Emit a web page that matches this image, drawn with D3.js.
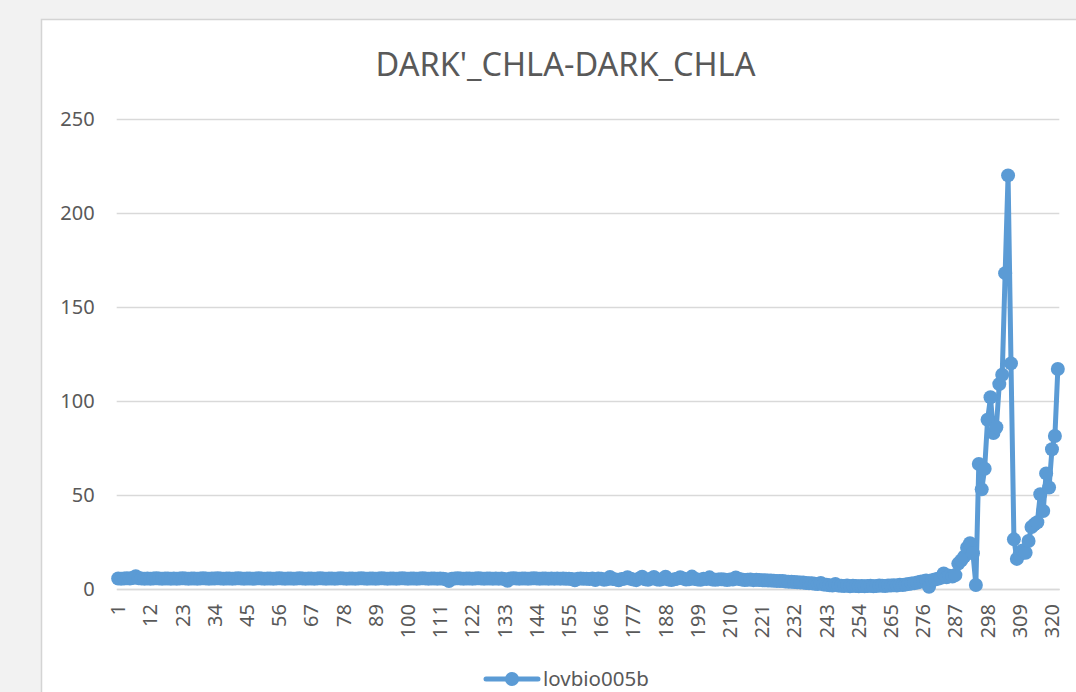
<!DOCTYPE html>
<html>
<head>
<meta charset="utf-8">
<script src="https://cdn.jsdelivr.net/npm/d3@7"></script>
<style>
  html, body { margin: 0; padding: 0; background: #f2f2f2; overflow: hidden; }
  svg { display: block; font-family: "Noto Sans", "Open Sans", sans-serif; }
</style>
</head>
<body>
<svg id="chart" width="1076" height="692"></svg>
<script>
const chartTitle = "DARK'_CHLA-DARK_CHLA";
const seriesName = "lovbio005b";
const categories = d3.range(1, 323);
const xTickLabels = [1, 12, 23, 34, 45, 56, 67, 78, 89, 100, 111, 122, 133, 144, 155, 166, 177, 188, 199, 210, 221, 232, 243, 254, 265, 276, 287, 298, 309, 320];
const yTicks = [0, 50, 100, 150, 200, 250];
const values = [
  5.6,5.5,5.6,5.7,5.6,5.8,6.8,5.7,5.6,5.5,
  5.6,5.5,5.6,5.7,5.6,5.5,5.6,5.6,5.5,5.6,
  5.5,5.6,5.7,5.6,5.5,5.6,5.6,5.5,5.6,5.7,
  5.6,5.5,5.6,5.6,5.7,5.6,5.5,5.6,5.6,5.5,
  5.6,5.7,5.6,5.5,5.6,5.6,5.5,5.6,5.7,5.6,
  5.5,5.6,5.6,5.5,5.6,5.7,5.6,5.5,5.6,5.6,
  5.5,5.6,5.7,5.6,5.5,5.6,5.6,5.5,5.6,5.7,
  5.6,5.5,5.6,5.6,5.5,5.6,5.7,5.6,5.5,5.6,
  5.6,5.5,5.6,5.7,5.6,5.5,5.6,5.6,5.5,5.6,
  5.7,5.6,5.5,5.6,5.6,5.5,5.6,5.7,5.6,5.5,
  5.6,5.6,5.5,5.6,5.7,5.6,5.5,5.6,5.6,5.5,
  5.6,5.5,5.2,4.2,5.5,5.6,5.7,5.6,5.5,5.6,
  5.6,5.5,5.6,5.7,5.6,5.5,5.6,5.6,5.5,5.6,
  5.5,5.6,5.3,4.4,5.6,5.7,5.6,5.5,5.6,5.6,
  5.5,5.6,5.7,5.6,5.5,5.6,5.6,5.5,5.6,5.5,
  5.6,5.5,5.6,5.4,5.5,5.3,4.6,5.5,5.6,5.4,
  5.5,5.3,5.6,4.8,5.6,5.5,4.9,5.2,6.4,5.3,
  5.1,4.6,5.3,5.5,6.3,5.4,5.0,4.7,5.6,6.5,
  5.2,4.9,5.4,6.4,5.1,4.9,5.3,6.5,5.0,4.8,
  5.2,5.5,6.3,5.6,5.0,5.2,6.6,5.3,5.0,4.9,
  5.4,5.3,6.2,5.0,4.9,5.1,5.2,5.0,4.8,5.1,
  5.0,6.1,5.3,5.0,4.8,4.9,5.0,4.7,4.9,4.8,
  4.7,4.6,4.5,4.5,4.4,4.3,4.2,4.2,4.0,3.9,
  3.8,3.7,3.6,3.5,3.4,3.2,3.1,3.0,2.8,2.6,
  3.2,2.4,2.2,2.0,1.8,2.6,1.9,1.7,1.6,1.8,
  1.5,1.7,1.6,1.4,1.6,1.5,1.6,1.7,1.5,1.6,
  1.8,1.7,1.6,1.9,1.8,2.0,1.9,2.2,2.1,2.4,
  2.6,2.9,3.1,3.4,3.8,4.1,4.5,1.2,4.6,5.0,
  5.4,5.9,8.3,6.2,7.0,6.6,7.4,13.5,15.2,17.2,
  22.0,24.3,19.0,2.1,66.5,53.0,64.0,90.0,102.0,83.0,
  86.0,109.0,114.0,168.0,220.0,120.0,26.4,16.0,18.5,20.5,
  19.3,25.5,33.0,34.4,35.5,50.4,41.5,61.5,54.0,74.3,
  81.4,117.0
];

const color = "#5b9bd5";
const textColor = "#595959";
const gridColor = "#d9d9d9";

const svg = d3.select("#chart");
const plot = { left: 116.7, right: 1059.3, top: 119, bottom: 589 };

// chart area
svg.append("rect")
  .attr("x", 41.5).attr("y", 19.5)
  .attr("width", 1100).attr("height", 800)
  .attr("fill", "#ffffff").attr("stroke", "#d4d4d4").attr("stroke-width", 1.5);

const x = d3.scaleBand().domain(categories).range([plot.left, plot.right]).padding(0);
const y = d3.scaleLinear().domain([0, 250]).range([plot.bottom, plot.top]);

// gridlines + y labels
const yAxis = d3.axisLeft(y).tickValues(yTicks).tickSize(-(plot.right - plot.left)).tickPadding(22);
const gy = svg.append("g").attr("transform", `translate(${plot.left},0)`).call(yAxis);
gy.select(".domain").remove();
gy.selectAll(".tick line").attr("stroke", gridColor).attr("stroke-width", 1.3);
gy.selectAll(".tick text").attr("fill", textColor).attr("font-size", 20)
  .attr("font-family", "'Noto Sans', sans-serif");

// x axis
const xAxis = d3.axisBottom(x).tickValues(xTickLabels).tickSize(0).tickPadding(0);
const gx = svg.append("g").attr("transform", `translate(0,${plot.bottom})`).call(xAxis);
gx.select(".domain").attr("stroke", gridColor).attr("stroke-width", 1.3);
gx.selectAll(".tick text")
  .attr("fill", textColor).attr("font-size", 20)
  .attr("font-family", "'Noto Sans', sans-serif")
  .attr("text-anchor", "end")
  .attr("dy", null)
  .attr("transform", "translate(0,15) rotate(-90)")
  .attr("x", 0).attr("y", 7);

// series
const data = categories.map((c, i) => ({ c, v: values[i] }));
const line = d3.line().x(d => x(d.c) + x.bandwidth() / 2).y(d => y(d.v));
svg.append("path").datum(data)
  .attr("fill", "none").attr("stroke", color).attr("stroke-width", 5)
  .attr("stroke-linejoin", "round").attr("stroke-linecap", "round")
  .attr("d", line);
svg.append("g").selectAll("circle").data(data).join("circle")
  .attr("cx", d => x(d.c) + x.bandwidth() / 2)
  .attr("cy", d => y(d.v))
  .attr("r", 7)
  .attr("fill", color);

// title
svg.append("text")
  .attr("x", 565.5).attr("y", 76)
  .attr("text-anchor", "middle")
  .attr("font-size", 32.5).attr("fill", textColor)
  .text(chartTitle);

// legend
const lg = svg.append("g");
lg.append("line").attr("x1", 486).attr("x2", 538).attr("y1", 679).attr("y2", 679)
  .attr("stroke", color).attr("stroke-width", 5).attr("stroke-linecap", "round");
lg.append("circle").attr("cx", 512).attr("cy", 679).attr("r", 7).attr("fill", color);
lg.append("text").attr("x", 543).attr("y", 686).attr("font-size", 20.5).attr("fill", textColor)
  .text(seriesName);
</script>
</body>
</html>
